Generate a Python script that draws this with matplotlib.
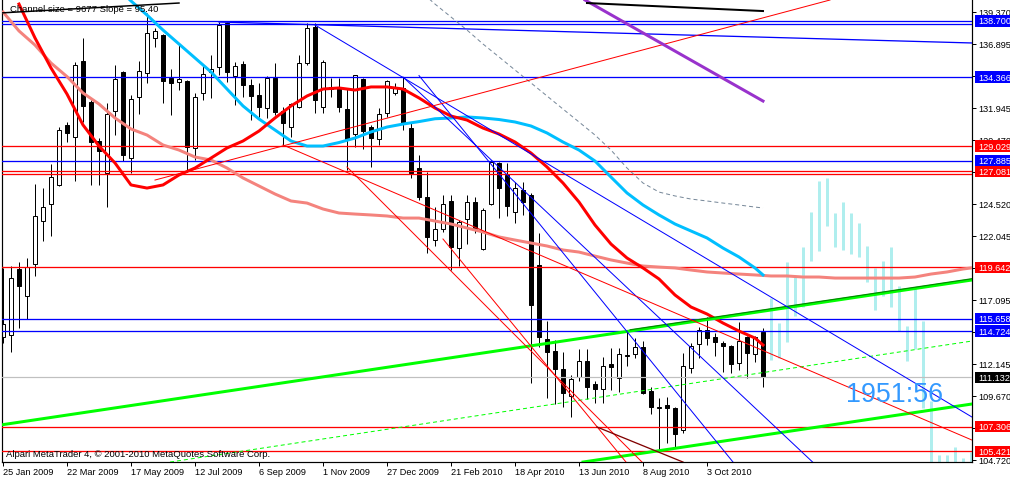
import matplotlib
matplotlib.use("Agg")
import matplotlib.pyplot as plt
from matplotlib.patches import Rectangle

W, H = 1010, 479
PX = 0.72  # points per pixel at 100 dpi
FONT = "Liberation Sans"

# ---------------- weekly candles (index 0 = week of 25 Jan 2009) ----------------
opens = [114.27, 114.43, 119.53, 117.43, 119.91, 123.23, 124.55, 126.02, 130.66, 129.73,
         135.61, 132.44, 129.42, 126.94, 131.74, 134.76, 128.11, 132.82, 134.68, 137.39,
         137.62, 134.29, 133.98, 134.06, 128.88, 133.13, 134.76, 135.14, 138.55, 134.45,
         135.37, 133.75, 132.98, 131.97, 134.29, 131.74, 130.50, 132.05, 135.45, 138.24,
         132.05, 133.44, 133.52, 131.89, 129.96, 134.21, 130.50, 129.57, 131.59, 133.13,
         133.52, 130.42, 127.33, 125.09, 121.76, 122.61, 124.78, 121.14, 123.39, 124.70,
         121.07, 124.55, 127.72, 126.79, 123.93, 125.63, 125.24, 119.83, 114.11, 113.18,
         111.79, 109.70, 111.17, 112.41, 110.62, 110.24, 112.17, 111.09, 112.79, 112.95,
         113.49, 110.08, 108.77, 109.00, 108.77, 107.07, 111.86, 113.72, 114.80, 114.26,
         113.80, 113.56, 112.25, 114.26, 112.95, 114.65]
highs = [119.61, 119.76, 120.06, 120.37, 126.09, 125.78, 127.64, 130.50, 130.89, 135.53,
         137.39, 132.59, 129.65, 132.36, 135.30, 134.83, 132.98, 135.61, 139.32, 138.16,
         137.69, 134.99, 136.84, 134.14, 133.13, 135.37, 136.07, 138.62, 138.60, 135.53,
         135.61, 134.21, 133.91, 134.45, 135.45, 132.05, 132.36, 136.07, 138.55, 138.55,
         135.68, 134.29, 134.29, 133.52, 134.55, 134.30, 130.66, 131.97, 134.14, 133.91,
         134.37, 130.89, 128.34, 127.02, 124.31, 125.24, 125.24, 123.31, 125.24, 125.09,
         124.24, 127.95, 127.80, 127.72, 126.25, 126.25, 125.40, 122.30, 115.50, 114.03,
         113.10, 111.32, 113.33, 113.33, 110.86, 112.71, 113.41, 113.41, 114.65, 114.18,
         113.95, 110.39, 109.54, 109.62, 108.85, 113.02, 113.80, 115.04, 115.81, 114.57,
         113.95, 113.64, 115.42, 114.30, 114.30, 114.96]
lows = [113.81, 113.11, 114.96, 115.66, 118.98, 121.69, 122.07, 125.94, 129.34, 126.32,
        130.89, 126.02, 126.02, 124.31, 129.88, 127.87, 126.94, 131.51, 133.91, 136.69,
        132.36, 131.43, 133.36, 127.02, 127.95, 132.59, 132.75, 134.52, 133.98, 132.20,
        132.82, 131.04, 131.28, 131.20, 131.43, 129.11, 129.73, 131.97, 135.30, 131.59,
        131.59, 132.82, 131.66, 127.18, 128.96, 128.80, 127.41, 129.11, 131.28, 132.98,
        130.27, 126.56, 124.86, 120.77, 121.30, 122.38, 119.44, 119.75, 121.45, 122.30,
        121.00, 124.47, 123.47, 123.62, 123.08, 123.70, 110.70, 113.49, 109.54, 109.08,
        108.85, 108.07, 110.86, 109.47, 109.16, 109.16, 110.16, 110.01, 112.02, 112.64,
        109.85, 108.30, 105.52, 106.06, 105.75, 106.83, 111.48, 112.64, 113.64, 112.79,
        111.55, 111.48, 111.71, 111.09, 112.33, 110.39]
closes = [115.27, 118.83, 118.21, 119.68, 123.62, 124.31, 126.63, 130.27, 130.04, 135.30,
          132.13, 129.34, 128.65, 131.51, 134.21, 128.34, 132.67, 134.83, 137.77, 137.93,
          134.06, 133.91, 134.21, 128.96, 132.82, 134.60, 134.99, 138.39, 134.76, 135.22,
          133.75, 132.90, 132.05, 134.29, 131.66, 130.81, 132.28, 135.45, 138.16, 132.59,
          135.53, 133.60, 132.05, 129.57, 134.52, 130.19, 129.65, 131.51, 134.06, 133.52,
          130.73, 126.94, 125.09, 122.00, 122.61, 124.55, 121.22, 123.16, 124.70, 122.61,
          124.08, 127.80, 125.78, 124.39, 125.78, 124.70, 116.74, 114.26, 113.10, 111.79,
          109.93, 111.01, 112.41, 110.39, 110.24, 112.02, 111.94, 112.95, 112.87, 113.49,
          109.93, 108.85, 108.85, 108.77, 106.76, 112.02, 113.56, 114.80, 114.18, 113.87,
          113.56, 112.17, 113.95, 113.02, 114.26, 111.13]

# ---------------- indicator lines ----------------
red_idx = list(range(2, 95, 2)) + [95]
red_ma = [140.01, 137.39, 135.07, 133.05, 130.66, 129.03, 127.72, 126.02, 125.78, 126.02,
          126.79, 127.33, 128.10, 128.88, 129.42, 130.19, 131.20, 132.13, 132.90, 133.44,
          133.52, 133.36, 133.60, 133.60, 133.44, 132.75, 131.97, 131.35, 131.04, 130.42,
          129.96, 129.34, 128.49, 127.41, 126.17, 124.70, 122.92, 121.45, 120.37, 119.60,
          118.75, 117.51, 116.58, 116.04, 115.34, 114.72, 114.18, 113.64]
cyan_idx = [15] + list(range(16, 95, 2)) + [95]
cyan_ma = [140.86, 140.25, 139.16, 138.00, 136.92, 135.84, 134.76, 133.44, 132.13, 131.12,
           130.27, 129.42, 129.03, 129.03, 129.30, 129.65, 130.12, 130.50, 130.73, 130.92,
           131.14, 131.20, 131.28, 131.20, 131.08, 130.89, 130.58, 130.04, 129.34, 128.72,
           127.87, 126.63, 125.40, 124.47, 123.70, 123.00, 122.46, 121.92, 121.14, 120.45,
           119.60, 119.06]
pink_idx = list(range(0, 121, 2)) + [121]
pink_ma = [139.40, 137.93, 136.84, 135.45, 134.40, 133.13, 132.28, 131.20, 130.35, 129.88,
           129.11, 128.72, 128.18, 127.95, 127.33, 126.56, 125.94, 125.32, 124.78, 124.62,
           124.16, 123.85, 123.77, 123.70, 123.62, 123.46, 123.46, 123.23, 123.00, 122.69,
           122.38, 122.00, 121.76, 121.53, 121.30, 120.99, 120.83, 120.52, 120.22, 119.98,
           119.75, 119.67, 119.60, 119.44, 119.29, 119.21, 119.13, 119.06, 118.98, 118.98,
           118.90, 118.90, 118.82, 118.82, 118.82, 118.82, 118.82, 118.90, 119.13, 119.29,
           119.52, 119.60]
gray_idx = [53] + list(range(54, 95, 2)) + [95]
gray_ma = [140.56, 140.01, 139.01, 138.00, 136.92, 135.92, 134.91, 133.91, 132.90, 131.89,
           130.89, 129.88, 128.72, 127.33, 126.17, 125.47, 125.17, 124.93, 124.78, 124.62,
           124.47, 124.31, 124.24]

# projection bars
fc_idx = list(range(96, 122))
fc_high = [117.28, 115.34, 120.06, 118.90, 121.22, 123.93, 126.32, 126.56, 123.85, 124.70,
           123.85, 123.08, 121.30, 119.60, 120.14, 121.22, 118.20, 115.11, 118.05, 115.50,
           109.31, 105.13, 105.13, 105.75, 104.90, 105.37]
fc_low = [112.48, 112.64, 113.87, 115.88, 116.58, 120.14, 120.91, 122.85, 121.22, 120.99,
          120.68, 120.45, 118.51, 116.35, 117.43, 116.58, 114.72, 112.40, 113.33, 108.77,
          104.00, 104.00, 104.00, 104.00, 104.00, 104.00]

# horizontal levels
blue_levels = [138.700, 138.45, 134.366, 127.885, 115.658, 114.724]
red_levels = [129.029, 127.081, 126.85, 119.642, 107.306, 105.421]
bid_level = 111.132

# price labels on the right scale
box_blue = [138.700, 134.366, 127.885, 115.658, 114.724]
box_red = [129.029, 127.081, 119.642, 107.306, 105.421]
box_black = [111.132]
price_ticks = [139.370, 136.895, 134.420, 131.945, 129.470, 126.995, 124.520, 122.045,
               119.570, 117.095, 114.620, 112.145, 109.670, 107.195, 104.720]

date_pos = [0, 8, 16, 24, 32, 40, 48, 56, 64, 72, 80, 88]
date_labels = ["25 Jan 2009", "22 Mar 2009", "17 May 2009", "12 Jul 2009", "6 Sep 2009",
               "1 Nov 2009", "27 Dec 2009", "21 Feb 2010", "18 Apr 2010", "13 Jun 2010",
               "8 Aug 2010", "3 Oct 2010"]

# trend lines: (x0, p0, x1, p1, colour, width_px, style)
trend_lines = [
    (-0.375, 107.45, 121.125, 118.67, "#00FF00", 3, "-"),
    (72.5, 104.59, 121.125, 109.08, "#00FF00", 3, "-"),
    (20.875, 104.59, 121.125, 113.95, "#00FF00", 1, (0, (4, 3))),
    (78.4, 114.82, 121.125, 118.77, "#008800", 1.2, "-"),
    (39, 138.39, 121.125, 108.07, "#0000FF", 1, "-"),
    (50, 134.37, 101.2, 104.59, "#0000FF", 1, "-"),
    (52, 134.48, 91.25, 104.59, "#0000FF", 1, "-"),
    (27, 138.62, 121.125, 137.00, "#0000FF", 1.3, "-"),
    (19, 126.40, 103.375, 140.324, "#FF0000", 1, "-"),
    (35, 129.11, 121.125, 106.29, "#FF0000", 1, "-"),
    (43, 127.41, 79.875, 104.59, "#FF0000", 1, "-"),
    (55, 121.84, 77.875, 104.59, "#FF0000", 1, "-"),
    (74.25, 107.30, 85, 104.59, "#800000", 1.3, "-"),
    (72.75, 140.324, 95, 132.51, "#9932CC", 3, "-"),
    (-0.375, 139.32, 22, 140.09, "#000000", 1.5, "-"),
    (73.0, 140.09, 95, 139.47, "#000000", 2, "-"),
]

# ---------------- figure ----------------
fig = plt.figure(figsize=(W / 100, H / 100), dpi=100)
fig.patch.set_facecolor("white")
ax = fig.add_axes([2 / W, 17 / H, 970 / W, 462 / H])
ax.set_facecolor("white")
ax.set_xlim(-0.125, 121.125)
ax.set_ylim(104.594, 140.324)
ax.spines["top"].set_visible(False)
for s in ["left", "right", "bottom"]:
    ax.spines[s].set_linewidth(1.2 * PX)
    ax.spines[s].set_color("black")

ax.set_xticks(date_pos)
ax.tick_params(axis="x", length=4 * PX, width=PX, labelbottom=False, color="black")
ax.yaxis.tick_right()
ax.set_yticks(price_ticks)
ax.tick_params(axis="y", length=4 * PX, width=PX, labelright=False, right=True,
               left=False, color="black")

# projection bars
ax.vlines(fc_idx, fc_low, fc_high, colors="#AFEEEE", linewidth=3 * PX, zorder=1)

# candles
bw = 0.55
ax.vlines(range(len(opens)), lows, highs, colors="black", linewidth=PX, zorder=2)
for i, (o, c) in enumerate(zip(opens, closes)):
    lo, hi = min(o, c), max(o, c)
    h = max(hi - lo, 0.02)
    fc = "white" if c >= o else "black"
    ax.add_patch(Rectangle((i - bw / 2, lo), bw, h, facecolor=fc, edgecolor="black",
                           linewidth=PX, zorder=2.2))

# horizontal lines
for p in blue_levels:
    ax.axhline(p, color="#0000FF", linewidth=1.3 * PX, zorder=3)
for p in red_levels:
    ax.axhline(p, color="#FF0000", linewidth=1.3 * PX, zorder=3)
ax.axhline(bid_level, color="#C0C0C0", linewidth=1.2 * PX, zorder=3)

# moving averages
ax.plot(pink_idx, pink_ma, color="#F4837D", linewidth=3 * PX, zorder=3.5,
        solid_joinstyle="round")
ax.plot(gray_idx, gray_ma, color="#778899", linewidth=1 * PX, linestyle=(0, (4, 3)),
        zorder=3.5)
ax.plot(cyan_idx, cyan_ma, color="#00BFFF", linewidth=3 * PX, zorder=3.6)
ax.plot(red_idx, red_ma, color="#FF0000", linewidth=3 * PX, zorder=3.7)

# trend lines
for x0, p0, x1, p1, col, wpx, ls in trend_lines:
    ax.plot([x0, x1], [p0, p1], color=col, linewidth=wpx * PX, linestyle=ls, zorder=4)

# right price scale
ytr = ax.get_yaxis_transform()
for p in price_ticks:
    ax.text(1.0062, p, "%.3f" % p, transform=ytr, ha="left", va="center_baseline",
            fontsize=6.6, family=FONT, color="black", clip_on=False, zorder=5)
for plist, col in [(box_blue, "#0000FF"), (box_red, "#FF0000"), (box_black, "#000000")]:
    for p in plist:
        ax.add_patch(Rectangle((1.0031, p - 0.43), 0.0361, 0.86, transform=ytr,
                               facecolor=col, edgecolor="none", clip_on=False, zorder=8))
        ax.text(1.0062, p, "%.3f" % p, transform=ytr, ha="left", va="center_baseline",
                fontsize=6.6, family=FONT, color="white", clip_on=False, zorder=9)

# date labels
xtr = ax.get_xaxis_transform()
for pos, lab in zip(date_pos, date_labels):
    ax.text(pos + 0.05, -0.0195, lab, transform=xtr, ha="left", va="center_baseline",
            fontsize=6.6, family=FONT, color="black", clip_on=False)

# texts
fig.text(10 / W, 1 - 12 / H, "Channel size = 9677 Slope = 95.40", fontsize=6.8,
         family=FONT, color="black", ha="left", va="baseline")
fig.text(6 / W, 1 - 457 / H, "Alpari MetaTrader 4, \u00a9 2001-2010 MetaQuotes Software Corp.",
         fontsize=6.8, family=FONT, color="black", ha="left", va="baseline")
fig.text(846 / W, 1 - 402 / H, "1951:56", fontsize=19.4, family=FONT, color="#3399FF",
         ha="left", va="baseline", zorder=10)

fig.savefig("out.png", dpi=100, facecolor="white")
